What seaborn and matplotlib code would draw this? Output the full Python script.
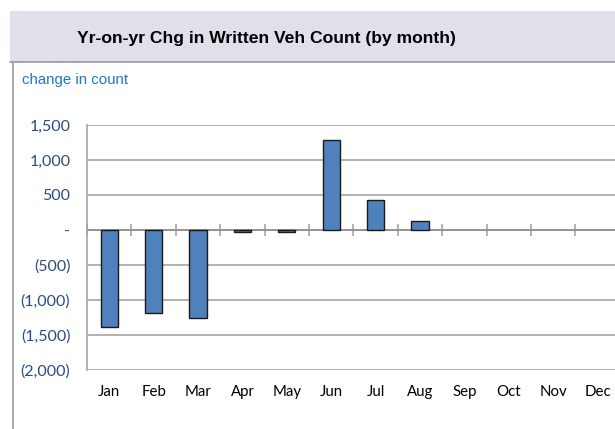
import matplotlib
matplotlib.use("Agg")
import matplotlib.pyplot as plt
import seaborn as sns
import pandas as pd
import numpy as np
from matplotlib.patches import Rectangle
from matplotlib.lines import Line2D

months = ["Jan", "Feb", "Mar", "Apr", "May", "Jun", "Jul", "Aug", "Sep", "Oct", "Nov", "Dec"]
values = [-1380, -1180, -1260, -33, -33, 1290, 424, 124, np.nan, np.nan, np.nan, np.nan]
y_ticks = [-2000, -1500, -1000, -500, 0, 500, 1000, 1500]
y_tick_labels = ["(2,000)", "(1,500)", "(1,000)", "(500)", "-", "500", "1,000", "1,500"]
title = "Yr-on-yr Chg in Written Veh Count (by month)"
y_title = "change in count"

df = pd.DataFrame({"month": months, "value": values})

sns.set_theme(style="white")
plt.rcParams["font.family"] = ["Lato", "DejaVu Sans"]

W, H = 615, 429
fig = plt.figure(figsize=(W / 100, H / 100), dpi=100)
fig.patch.set_facecolor("white")

# title band
fig.patches.append(Rectangle((10 / W, 1 - 62 / H), 1, 51 / H, transform=fig.transFigure,
                             facecolor="#E2DFEB", edgecolor="none", zorder=0))
fig.lines.append(Line2D([10 / W, 1], [1 - 62 / H, 1 - 62 / H], transform=fig.transFigure,
                        color="#9A9A9A", lw=1.2))
fig.lines.append(Line2D([13 / W, 13 / W], [1 - 62 / H, 0.0], transform=fig.transFigure,
                        color="#9A9A9A", lw=1.2))
fig.text(266 / W, 1 - 38 / H, title, ha="center", va="center", fontsize=12.6,
         fontweight="bold", family=["Liberation Sans", "DejaVu Sans"], color="black")
fig.text(22 / W, 1 - 80 / H, y_title, ha="left", va="center", fontsize=10.8,
         family=["Liberation Sans", "DejaVu Sans"], color="#1F78C8")

left, bottom, top = 87 / W, 1 - 370 / H, 1 - 125 / H
ax = fig.add_axes([left, bottom, 1 - left, top - bottom])
ax.set_facecolor("none")

sns.barplot(data=df, x="month", y="value", ax=ax, color="#4F81BD", width=0.39,
            edgecolor="#1A1A1A", linewidth=1.0, saturation=1, zorder=3)

cat_w = 44.4
ax.set_xlim(-0.5, -0.5 + (W - 87) / cat_w)
ax.set_ylim(-2000, 1500)
ax.set_yticks(y_ticks)
ax.set_yticklabels(y_tick_labels)
ax.yaxis.grid(True, color="#A6A6A6", lw=1.2, zorder=0)
ax.xaxis.grid(False)
for s in ["top", "right", "bottom"]:
    ax.spines[s].set_visible(False)
ax.spines["left"].set_color("#A6A6A6")
ax.spines["left"].set_linewidth(1.2)
ax.set_xlabel("")
ax.set_ylabel("")
ax.tick_params(axis="y", length=0, pad=12, labelsize=11.5, labelcolor="#2B4C7E")
ax.tick_params(axis="x", length=0, pad=11, labelsize=10.8, labelcolor="black")

# category axis at zero with boundary tick marks
frac0 = (0 - (-2000)) / 3500
sec = ax.secondary_xaxis(frac0)
sec.set_xticks(np.arange(len(months) + 1) - 0.5)
sec.set_xticklabels([])
sec.tick_params(axis="x", direction="inout", length=8, width=1.2, color="#A6A6A6")
sec.spines["bottom"].set_color("#A6A6A6")
sec.spines["bottom"].set_linewidth(1.2)

fig.savefig("out.png", dpi=100)
